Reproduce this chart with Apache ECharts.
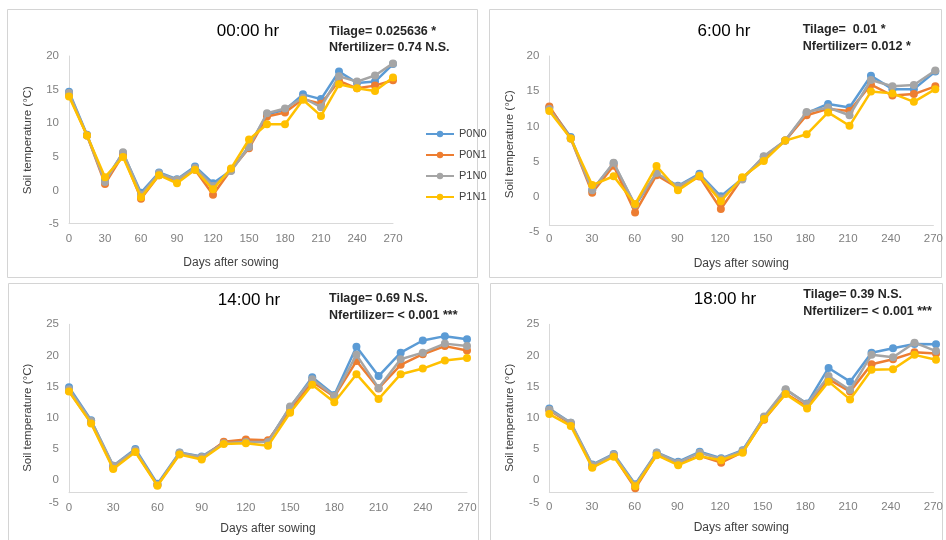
<!DOCTYPE html>
<html>
<head>
<meta charset="utf-8">
<script src="https://cdn.jsdelivr.net/npm/echarts@6/dist/echarts.min.js"></script>
<style>
  html, body { margin: 0; padding: 0; background: #ffffff; }
  #chart { width: 946px; height: 540px; }
</style>
</head>
<body>
<div id="chart"></div>
<script>
// Sampling days (days after sowing)
const days = [0, 15, 30, 45, 60, 75, 90, 105, 120, 135, 150, 165, 180, 195, 210, 225, 240, 255, 270];
const seriesNames = ['P0N0', 'P0N1', 'P1N0', 'P1N1'];

// Soil temperature (°C) at 00:00 hr
const t00_P0N0 = [14.7, 8.3, 1.5, 5.6, -0.3, 2.7, 1.7, 3.6, 1.1, 3.0, 6.6, 11.3, 12.0, 14.3, 13.6, 17.7, 16.0, 16.2, 18.8];
const t00_P0N1 = [14.2, 8.2, 1.0, 5.3, -1.2, 2.3, 1.5, 3.1, -0.6, 3.1, 6.3, 11.0, 11.6, 13.6, 12.9, 16.3, 15.2, 15.6, 16.4];
const t00_P1N0 = [14.5, 8.2, 1.3, 5.7, -0.6, 2.6, 1.6, 3.4, 0.7, 2.9, 6.5, 11.5, 12.2, 13.8, 12.4, 17.0, 16.2, 17.1, 18.9];
const t00_P1N1 = [14.0, 8.2, 2.0, 5.0, -1.0, 2.3, 1.1, 3.1, 0.2, 3.3, 7.6, 9.85, 9.85, 13.5, 11.1, 15.8, 15.2, 14.8, 16.8];

// Soil temperature (°C) at 6:00 hr
const t06_P0N0 = [12.7, 8.5, 1.0, 4.8, -1.2, 3.3, 1.6, 3.3, 0.1, 2.6, 5.7, 8.0, 11.9, 13.2, 12.7, 17.2, 15.3, 15.3, 17.8];
const t06_P0N1 = [12.85, 8.3, 0.6, 4.45, -2.2, 3.1, 1.3, 2.9, -1.7, 2.7, 5.4, 8.0, 11.6, 12.5, 12.2, 15.95, 14.4, 14.6, 15.7];
const t06_P1N0 = [12.5, 8.3, 0.95, 4.85, -1.1, 3.4, 1.5, 3.1, -0.2, 2.5, 5.8, 8.0, 12.05, 12.7, 11.6, 16.6, 15.7, 15.9, 17.95];
const t06_P1N1 = [12.2, 8.3, 1.7, 2.95, -1.0, 4.4, 0.95, 3.0, -0.6, 2.8, 5.1, 8.0, 8.9, 12.0, 10.1, 14.95, 14.7, 13.5, 15.3];

// Soil temperature (°C) at 14:00 hr
const t14_P0N0 = [14.9, 9.6, 2.3, 5.0, -0.6, 4.45, 3.8, 6.0, 6.3, 6.2, 11.7, 16.5, 13.65, 21.4, 16.7, 20.45, 22.4, 23.1, 22.6];
const t14_P0N1 = [14.3, 9.2, 2.0, 4.6, -0.8, 4.2, 3.5, 6.15, 6.5, 6.4, 11.1, 15.8, 13.4, 19.1, 14.7, 18.5, 20.2, 21.5, 20.8];
const t14_P1N0 = [14.6, 9.5, 2.3, 4.8, -0.8, 4.4, 3.7, 5.9, 6.1, 6.1, 11.8, 16.2, 13.5, 20.1, 14.8, 19.4, 20.45, 21.9, 21.5];
const t14_P1N1 = [14.2, 9.1, 1.8, 4.5, -0.9, 4.1, 3.3, 5.8, 5.9, 5.5, 10.8, 15.3, 12.5, 17.0, 13.0, 17.0, 17.9, 19.2, 19.6];

// Soil temperature (°C) at 18:00 hr
const t18_P0N0 = [11.5, 9.2, 2.5, 4.2, -0.65, 4.45, 2.95, 4.55, 3.5, 4.8, 10.1, 14.5, 12.3, 18.0, 15.8, 20.45, 21.15, 21.85, 21.8];
const t18_P0N1 = [11.2, 9.0, 2.1, 3.9, -1.3, 4.1, 2.6, 3.9, 2.8, 4.5, 9.7, 13.9, 11.8, 16.2, 14.2, 18.6, 19.4, 20.5, 20.3];
const t18_P1N0 = [11.3, 9.2, 2.4, 4.1, -0.8, 4.4, 2.8, 4.4, 3.4, 4.7, 10.2, 14.6, 12.2, 16.7, 14.45, 20.1, 19.7, 22.05, 20.7];
const t18_P1N1 = [10.6, 8.7, 2.0, 3.75, -1.0, 4.0, 2.4, 3.85, 3.2, 4.4, 9.8, 13.8, 11.5, 15.8, 12.95, 17.7, 17.8, 20.1, 19.3];

// Panel headings and ANOVA notes
const panelTitles = ['00:00 hr', '6:00 hr', '14:00 hr', '18:00 hr'];
const tillageNotes = ['Tilage= 0.025636 *', 'Tilage=  0.01 *', 'Tilage= 0.69 N.S.', 'Tilage= 0.39 N.S.'];
const nitrogenNotes = ['Nfertilizer= 0.74 N.S.', 'Nfertilizer= 0.012 *', 'Nfertilizer= < 0.001 ***', 'Nfertilizer= < 0.001 ***'];
const yRanges = [[-5, 20], [-5, 20], [-5, 25], [-5, 25]];

const panelValues = [
  [t00_P0N0, t00_P0N1, t00_P1N0, t00_P1N1],
  [t06_P0N0, t06_P0N1, t06_P1N0, t06_P1N1],
  [t14_P0N0, t14_P0N1, t14_P1N0, t14_P1N1],
  [t18_P0N0, t18_P0N1, t18_P1N0, t18_P1N1]
];

// Layout of each panel (pixels)
const layout = [
  { left: 69, top: 56, width: 324, height: 168.3, axisY: 223.5, liftMin: false, xGap: 33, yGap: 35, labelMargin: 9,
    titleX: 248, titleY: 31, noteX: 329, noteY: 31.7, frame: [7.5, 9.5, 470, 268] },
  { left: 549.3, top: 56, width: 386, height: 176.3, axisY: 225.3, liftMin: false, xGap: 32.4, yGap: 33.3, labelMargin: 7.5,
    titleX: 724, titleY: 31.7, noteX: 802.7, noteY: 30, frame: [489.5, 9.5, 452, 268] },
  { left: 69, top: 324.3, width: 398, height: 187, axisY: 492.7, liftMin: true, xGap: 30, yGap: 35, labelMargin: 9,
    titleX: 249, titleY: 300, noteX: 329, noteY: 299, frame: [8.5, 283.5, 470, 262] },
  { left: 549.3, top: 324.3, width: 386.7, height: 187, axisY: 492.3, liftMin: true, xGap: 29.4, yGap: 33, labelMargin: 9,
    titleX: 725, titleY: 299, noteX: 803.3, noteY: 295, frame: [490.5, 283.5, 452, 262] }
];

const colors = ['#5B9BD5', '#ED7D31', '#A5A5A5', '#FFC000'];
const font = 'Liberation Sans, Arial, sans-serif';
const axisGrey = '#d9d9d9';
const tickGrey = '#7f7f7f';
const nameGrey = '#404040';

const grids = [], xAxes = [], yAxes = [], series = [], graphics = [];

layout.forEach((p, i) => {
  const [ymin, ymax] = yRanges[i];
  // plotting grid: full value range
  grids.push({ left: p.left, top: p.top, width: p.width, height: p.height });
  // frame grid: carries the visible axis lines
  grids.push({ left: p.left, top: p.top, width: p.width, height: p.axisY - p.top });

  xAxes.push({ gridIndex: 2 * i, type: 'value', min: 0, max: 270, show: false });
  xAxes.push({
    gridIndex: 2 * i + 1, type: 'value', min: 0, max: 270, interval: 30,
    axisLine: { show: true, lineStyle: { color: axisGrey, width: 1 } },
    axisTick: { show: false }, splitLine: { show: false },
    axisLabel: { color: tickGrey, fontSize: 11.5, fontFamily: font, margin: p.labelMargin },
    name: 'Days after sowing', nameLocation: 'middle', nameGap: p.xGap,
    nameTextStyle: { color: nameGrey, fontSize: 12, fontFamily: font }
  });

  yAxes.push({
    gridIndex: 2 * i, type: 'value', min: ymin, max: ymax, interval: 5,
    axisLine: { show: false }, axisTick: { show: false }, splitLine: { show: false },
    axisLabel: {
      color: tickGrey, fontSize: 11.5, fontFamily: font, margin: 10,
      formatter: v => (p.liftMin && v === ymin) ? '{lift|' + v + '}' : String(v),
      rich: { lift: { color: tickGrey, fontSize: 11.5, fontFamily: font, padding: [0, 0, 17, 0] } }
    },
    name: 'Soil temperature (°C)', nameLocation: 'middle', nameGap: p.yGap,
    nameTextStyle: { color: nameGrey, fontSize: 11.5, fontFamily: font }
  });
  yAxes.push({
    gridIndex: 2 * i + 1, type: 'value', min: 0, max: 1,
    axisLine: { show: true, lineStyle: { color: axisGrey, width: 1 } },
    axisTick: { show: false }, axisLabel: { show: false }, splitLine: { show: false }
  });

  panelValues[i].forEach((vals, k) => {
    series.push({
      name: seriesNames[k], type: 'line',
      xAxisIndex: 2 * i, yAxisIndex: 2 * i,
      data: days.map((d, j) => [d, vals[j]]),
      symbol: 'circle', symbolSize: 8, showSymbol: true,
      lineStyle: { color: colors[k], width: 2.5 },
      itemStyle: { color: colors[k] },
      z: 2 + k
    });
  });

  const [fx, fy, fw, fh] = p.frame;
  graphics.push({ type: 'rect', shape: { x: fx, y: fy, width: fw, height: fh },
    style: { fill: 'none', stroke: '#d4d4d4', lineWidth: 1 }, silent: true, z: -1 });
  graphics.push({ type: 'text', style: { x: p.titleX, y: p.titleY, text: panelTitles[i],
    textAlign: 'center', textVerticalAlign: 'middle', fill: '#000000', font: '17px ' + font } });
  graphics.push({ type: 'text', style: { x: p.noteX, y: p.noteY, text: tillageNotes[i],
    textAlign: 'left', textVerticalAlign: 'middle', fill: '#262626', font: 'bold 12.5px ' + font } });
  graphics.push({ type: 'text', style: { x: p.noteX, y: p.noteY + 16.3, text: nitrogenNotes[i],
    textAlign: 'left', textVerticalAlign: 'middle', fill: '#262626', font: 'bold 12.5px ' + font } });
});

const chart = echarts.init(document.getElementById('chart'), null, { renderer: 'canvas' });
chart.setOption({
  animation: false,
  color: colors,
  backgroundColor: '#ffffff',
  legend: {
    data: seriesNames, orient: 'vertical', left: 420, top: 122,
    itemWidth: 28, itemHeight: 8, itemGap: 7,
    textStyle: { color: nameGrey, fontSize: 11, fontFamily: font, lineHeight: 14 }
  },
  grid: grids,
  xAxis: xAxes,
  yAxis: yAxes,
  series: series,
  graphic: graphics
});
</script>
</body>
</html>
